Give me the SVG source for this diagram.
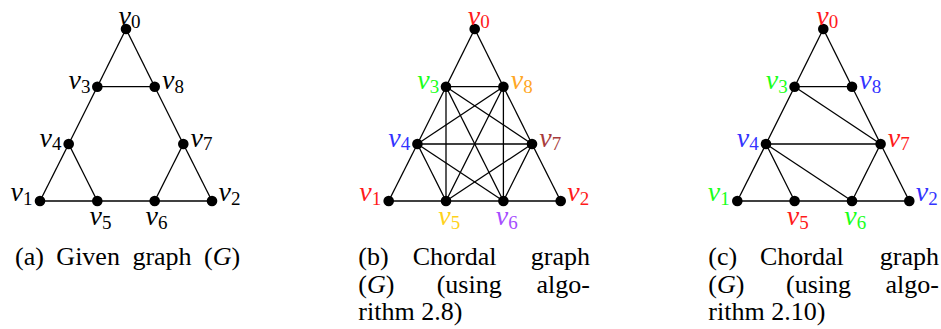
<svg xmlns="http://www.w3.org/2000/svg" width="941" height="329" viewBox="0 0 941 329">
<style>
.e{stroke:#000;stroke-width:1.3;fill:none}
.n{fill:#000}
.lb{font-family:"Liberation Serif","Times New Roman",serif;font-size:28px}
.v{font-style:italic}
.s{font-size:19px;font-style:normal}
.cap{font-family:"Liberation Serif","Times New Roman",serif;font-size:26px;fill:#000}
.it{font-style:italic}
</style>
<defs>
<circle id="dot" r="5.3" class="n"/>
</defs>

<!-- Figure (a) -->
<g id="fig-a">
<g id="a-edges">
<line class="e" x1="126" y1="29" x2="97.3" y2="86.7"/>
<line class="e" x1="126" y1="29" x2="154.7" y2="86.7"/>
<line class="e" x1="97.3" y1="86.7" x2="154.7" y2="86.7"/>
<line class="e" x1="97.3" y1="86.7" x2="68.7" y2="144"/>
<line class="e" x1="154.7" y1="86.7" x2="183.3" y2="144"/>
<line class="e" x1="68.7" y1="144" x2="40" y2="201"/>
<line class="e" x1="68.7" y1="144" x2="97.3" y2="201"/>
<line class="e" x1="183.3" y1="144" x2="154.7" y2="201"/>
<line class="e" x1="183.3" y1="144" x2="212" y2="201"/>
<line class="e" x1="40" y1="201" x2="97.3" y2="201"/>
<line class="e" x1="97.3" y1="201" x2="154.7" y2="201"/>
<line class="e" x1="154.7" y1="201" x2="212" y2="201"/>
</g>
<g id="a-v0"><use href="#dot" x="126" y="29"/><text class="lb" x="129.5" y="24.5" text-anchor="middle"><tspan class="v">v</tspan><tspan class="s" dy="3.5">0</tspan></text></g>
<g id="a-v3"><use href="#dot" x="97.3" y="86.7"/><text class="lb" x="90.5" y="89" text-anchor="end"><tspan class="v">v</tspan><tspan class="s" dy="3.5">3</tspan></text></g>
<g id="a-v8"><use href="#dot" x="154.7" y="86.7"/><text class="lb" x="162" y="89"><tspan class="v">v</tspan><tspan class="s" dy="3.5">8</tspan></text></g>
<g id="a-v4"><use href="#dot" x="68.7" y="144"/><text class="lb" x="61.5" y="146.5" text-anchor="end"><tspan class="v">v</tspan><tspan class="s" dy="3.5">4</tspan></text></g>
<g id="a-v7"><use href="#dot" x="183.3" y="144"/><text class="lb" x="190.5" y="146.5"><tspan class="v">v</tspan><tspan class="s" dy="3.5">7</tspan></text></g>
<g id="a-v1"><use href="#dot" x="40" y="201"/><text class="lb" x="32.5" y="201" text-anchor="end"><tspan class="v">v</tspan><tspan class="s" dy="3.5">1</tspan></text></g>
<g id="a-v5"><use href="#dot" x="97.3" y="201"/><text class="lb" x="100.5" y="225" text-anchor="middle"><tspan class="v">v</tspan><tspan class="s" dy="3.5">5</tspan></text></g>
<g id="a-v6"><use href="#dot" x="154.7" y="201"/><text class="lb" x="156.5" y="225" text-anchor="middle"><tspan class="v">v</tspan><tspan class="s" dy="3.5">6</tspan></text></g>
<g id="a-v2"><use href="#dot" x="212" y="201"/><text class="lb" x="218.5" y="201"><tspan class="v">v</tspan><tspan class="s" dy="3.5">2</tspan></text></g>
</g>

<!-- Figure (b) -->
<g id="fig-b" transform="translate(348.7 0)">
<g id="b-edges">
<line class="e" x1="126" y1="29" x2="97.3" y2="86.7"/>
<line class="e" x1="126" y1="29" x2="154.7" y2="86.7"/>
<line class="e" x1="97.3" y1="86.7" x2="154.7" y2="86.7"/>
<line class="e" x1="97.3" y1="86.7" x2="68.7" y2="144"/>
<line class="e" x1="154.7" y1="86.7" x2="183.3" y2="144"/>
<line class="e" x1="68.7" y1="144" x2="40" y2="201"/>
<line class="e" x1="68.7" y1="144" x2="97.3" y2="201"/>
<line class="e" x1="183.3" y1="144" x2="154.7" y2="201"/>
<line class="e" x1="183.3" y1="144" x2="212" y2="201"/>
<line class="e" x1="40" y1="201" x2="97.3" y2="201"/>
<line class="e" x1="97.3" y1="201" x2="154.7" y2="201"/>
<line class="e" x1="154.7" y1="201" x2="212" y2="201"/>
<line class="e" x1="97.3" y1="86.7" x2="97.3" y2="201"/>
<line class="e" x1="154.7" y1="86.7" x2="154.7" y2="201"/>
<line class="e" x1="97.3" y1="86.7" x2="183.3" y2="144"/>
<line class="e" x1="97.3" y1="86.7" x2="154.7" y2="201"/>
<line class="e" x1="154.7" y1="86.7" x2="68.7" y2="144"/>
<line class="e" x1="154.7" y1="86.7" x2="97.3" y2="201"/>
<line class="e" x1="68.7" y1="144" x2="183.3" y2="144"/>
<line class="e" x1="68.7" y1="144" x2="154.7" y2="201"/>
<line class="e" x1="183.3" y1="144" x2="97.3" y2="201"/>
</g>
<g id="b-v0"><use href="#dot" x="126" y="29"/><text class="lb" x="130" y="24.5" text-anchor="middle" fill="#ff1a1a"><tspan class="v">v</tspan><tspan class="s" dy="3.5">0</tspan></text></g>
<g id="b-v3"><use href="#dot" x="97.3" y="86.7"/><text class="lb" x="90.5" y="89" text-anchor="end" fill="#1aff1a"><tspan class="v">v</tspan><tspan class="s" dy="3.5">3</tspan></text></g>
<g id="b-v8"><use href="#dot" x="154.7" y="86.7"/><text class="lb" x="162" y="89" fill="#ffa726"><tspan class="v">v</tspan><tspan class="s" dy="3.5">8</tspan></text></g>
<g id="b-v4"><use href="#dot" x="68.7" y="144"/><text class="lb" x="61.5" y="146.5" text-anchor="end" fill="#3333ff"><tspan class="v">v</tspan><tspan class="s" dy="3.5">4</tspan></text></g>
<g id="b-v7"><use href="#dot" x="183.3" y="144"/><text class="lb" x="190.5" y="146.5" fill="#a83c3c"><tspan class="v">v</tspan><tspan class="s" dy="3.5">7</tspan></text></g>
<g id="b-v1"><use href="#dot" x="40" y="201"/><text class="lb" x="32.5" y="201" text-anchor="end" fill="#ff1a1a"><tspan class="v">v</tspan><tspan class="s" dy="3.5">1</tspan></text></g>
<g id="b-v5"><use href="#dot" x="97.3" y="201"/><text class="lb" x="100.5" y="225" text-anchor="middle" fill="#ffd21a"><tspan class="v">v</tspan><tspan class="s" dy="3.5">5</tspan></text></g>
<g id="b-v6"><use href="#dot" x="154.7" y="201"/><text class="lb" x="158" y="225" text-anchor="middle" fill="#a64dff"><tspan class="v">v</tspan><tspan class="s" dy="3.5">6</tspan></text></g>
<g id="b-v2"><use href="#dot" x="212" y="201"/><text class="lb" x="218.5" y="201" fill="#ff1a1a"><tspan class="v">v</tspan><tspan class="s" dy="3.5">2</tspan></text></g>
</g>

<!-- Figure (c) -->
<g id="fig-c" transform="translate(697.3 0)">
<g id="c-edges">
<line class="e" x1="126" y1="29" x2="97.3" y2="86.7"/>
<line class="e" x1="126" y1="29" x2="154.7" y2="86.7"/>
<line class="e" x1="97.3" y1="86.7" x2="154.7" y2="86.7"/>
<line class="e" x1="97.3" y1="86.7" x2="68.7" y2="144"/>
<line class="e" x1="154.7" y1="86.7" x2="183.3" y2="144"/>
<line class="e" x1="68.7" y1="144" x2="40" y2="201"/>
<line class="e" x1="68.7" y1="144" x2="97.3" y2="201"/>
<line class="e" x1="183.3" y1="144" x2="154.7" y2="201"/>
<line class="e" x1="183.3" y1="144" x2="212" y2="201"/>
<line class="e" x1="40" y1="201" x2="97.3" y2="201"/>
<line class="e" x1="97.3" y1="201" x2="154.7" y2="201"/>
<line class="e" x1="154.7" y1="201" x2="212" y2="201"/>
<line class="e" x1="97.3" y1="86.7" x2="183.3" y2="144"/>
<line class="e" x1="68.7" y1="144" x2="183.3" y2="144"/>
<line class="e" x1="68.7" y1="144" x2="154.7" y2="201"/>
</g>
<g id="c-v0"><use href="#dot" x="126" y="29"/><text class="lb" x="130" y="24.5" text-anchor="middle" fill="#ff1a1a"><tspan class="v">v</tspan><tspan class="s" dy="3.5">0</tspan></text></g>
<g id="c-v3"><use href="#dot" x="97.3" y="86.7"/><text class="lb" x="90.5" y="89" text-anchor="end" fill="#1aff1a"><tspan class="v">v</tspan><tspan class="s" dy="3.5">3</tspan></text></g>
<g id="c-v8"><use href="#dot" x="154.7" y="86.7"/><text class="lb" x="162" y="89" fill="#3333ff"><tspan class="v">v</tspan><tspan class="s" dy="3.5">8</tspan></text></g>
<g id="c-v4"><use href="#dot" x="68.7" y="144"/><text class="lb" x="61.5" y="146.5" text-anchor="end" fill="#3333ff"><tspan class="v">v</tspan><tspan class="s" dy="3.5">4</tspan></text></g>
<g id="c-v7"><use href="#dot" x="183.3" y="144"/><text class="lb" x="190.5" y="146.5" fill="#ff1a1a"><tspan class="v">v</tspan><tspan class="s" dy="3.5">7</tspan></text></g>
<g id="c-v1"><use href="#dot" x="40" y="201"/><text class="lb" x="32.5" y="201" text-anchor="end" fill="#1aff1a"><tspan class="v">v</tspan><tspan class="s" dy="3.5">1</tspan></text></g>
<g id="c-v5"><use href="#dot" x="97.3" y="201"/><text class="lb" x="100.5" y="225" text-anchor="middle" fill="#ff1a1a"><tspan class="v">v</tspan><tspan class="s" dy="3.5">5</tspan></text></g>
<g id="c-v6"><use href="#dot" x="154.7" y="201"/><text class="lb" x="158" y="225" text-anchor="middle" fill="#1aff1a"><tspan class="v">v</tspan><tspan class="s" dy="3.5">6</tspan></text></g>
<g id="c-v2"><use href="#dot" x="212" y="201"/><text class="lb" x="218.5" y="201" fill="#3333ff"><tspan class="v">v</tspan><tspan class="s" dy="3.5">2</tspan></text></g>
</g>

<!-- Captions -->
<g id="captions">
<text class="cap" x="15" y="265" word-spacing="6">(a) Given graph (<tspan class="it">G</tspan>)</text>

<text class="cap" x="358.3" y="265">(b)</text>
<text class="cap" x="412.7" y="265">Chordal</text>
<text class="cap" x="590" y="265" text-anchor="end">graph</text>
<text class="cap" x="358.3" y="293">(<tspan class="it">G</tspan>)</text>
<text class="cap" x="436.7" y="293">(using</text>
<text class="cap" x="590" y="293" text-anchor="end">algo-</text>
<text class="cap" x="358.3" y="320">rithm 2.8)</text>

<text class="cap" x="708.3" y="265">(c)</text>
<text class="cap" x="760" y="265">Chordal</text>
<text class="cap" x="939" y="265" text-anchor="end">graph</text>
<text class="cap" x="708.3" y="293">(<tspan class="it">G</tspan>)</text>
<text class="cap" x="786" y="293">(using</text>
<text class="cap" x="939" y="293" text-anchor="end">algo-</text>
<text class="cap" x="708.3" y="320">rithm 2.10)</text>
</g>
</svg>
